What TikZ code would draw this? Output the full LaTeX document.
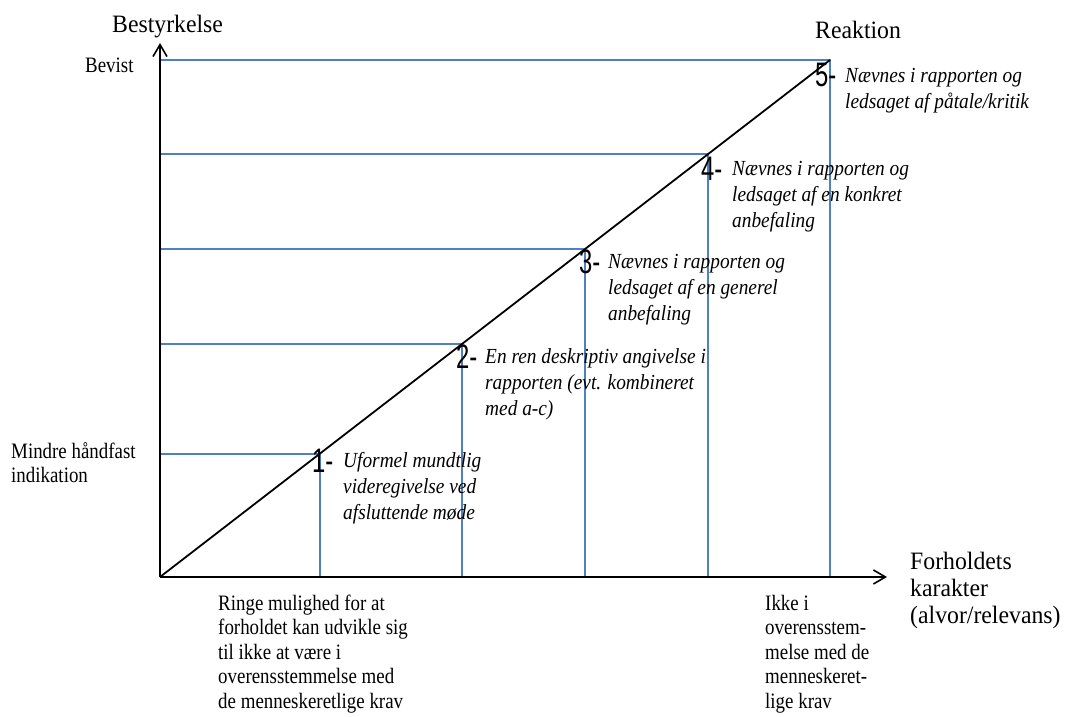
\documentclass[tikz,border=0pt]{standalone}
\usepackage{fontspec}
\setmainfont{Liberation Serif}[FakeStretch=0.86]
\newfontfamily\descfont{Liberation Serif}[FakeStretch=0.9]
\newfontfamily\headfont{Liberation Serif}[FakeStretch=0.95]
\newfontfamily\numfont{Liberation Sans}[FakeStretch=0.7]
\usetikzlibrary{arrows.meta}
\definecolor{guideblue}{RGB}{79,129,189}

\begin{document}
\begin{tikzpicture}[x=1pt,y=-1pt,
    axis/.style={line width=1.6pt,-{Straight Barb[length=12pt,width=14pt]}},
    guide/.style={line width=1.1pt,draw=guideblue},
    trend/.style={line width=1.8pt},
    num/.style={inner sep=0pt,anchor=base west,font=\numfont\fontsize{34}{34}\selectfont},
    desc/.style={inner sep=0pt,anchor=base west,align=left,font=\descfont\itshape\fontsize{21.5}{26}\selectfont},
    note/.style={inner sep=0pt,anchor=base west,align=left,font=\fontsize{22}{24.5}\selectfont},
    head/.style={inner sep=0pt,anchor=base west,align=left,font=\headfont\fontsize{25}{27}\selectfont}]

    \useasboundingbox (0,0) rectangle (1065,717);

    % axes
    \coordinate (O) at (160,577);
    \coordinate (ytop) at (160,43);
    \coordinate (xend) at (887,577);

    % steps on the diagonal, and their feet on the axes
    \coordinate (P1) at (320,454);
    \coordinate (P2) at (462,344);
    \coordinate (P3) at (585,249);
    \coordinate (P4) at (708,154);
    \coordinate (P5) at (830,60);
    \coordinate (H1) at (O |- P1);
    \coordinate (H2) at (O |- P2);
    \coordinate (H3) at (O |- P3);
    \coordinate (H4) at (O |- P4);
    \coordinate (H5) at (O |- P5);
    \coordinate (F1) at (O -| P1);
    \coordinate (F2) at (O -| P2);
    \coordinate (F3) at (O -| P3);
    \coordinate (F4) at (O -| P4);
    \coordinate (F5) at (O -| P5);

    \draw[guide] (H1) -- (P1) -- (F1);
    \draw[guide] (H2) -- (P2) -- (F2);
    \draw[guide] (H3) -- (P3) -- (F3);
    \draw[guide] (H4) -- (P4) -- (F4);
    \draw[guide] (H5) -- (P5) -- (F5);

    \draw[trend] (O) -- (P5);
    \draw[axis] (O) -- (ytop);
    \draw[axis] (O) -- (xend);

    % axis titles (base = last line)
    \node[head] (ylabel) at (112,33) {Bestyrkelse};
    \node[head] (rlabel) at (815,39) {Reaktion};
    \node[head] (xlabel) at (910,623) {Forholdets\\karakter\\(alvor/relevans)};

    % scale ends
    \node[note] (bevist) at (85,73) {Bevist};
    \node[note] (mindre) at (11,482.5) {Mindre håndfast\\indikation};
    \node[note] (ringe) at (218,708) {Ringe mulighed for at\\forholdet kan udvikle sig\\til ikke at være i\\overensstemmelse med\\de menneskeretlige krav};
    \node[note] (ikke) at (765,708) {Ikke i\\overensstem-\\melse med de\\menneskeret-\\lige krav};

    % reactions
    \node[num] (n1) at (312,472) {1-};
    \node[desc] (d1) at (343,519) {Uformel mundtlig\\videregivelse ved\\afsluttende møde};
    \node[num] (n2) at (456,368) {2-};
    \node[desc] (d2) at (485,415) {En ren deskriptiv angivelse i\\rapporten (evt. kombineret\\med a-c)};
    \node[num] (n3) at (579,273) {3-};
    \node[desc] (d3) at (608,320) {Nævnes i rapporten og\\ledsaget af en generel\\anbefaling};
    \node[num] (n4) at (701,180) {4-};
    \node[desc] (d4) at (732,227) {Nævnes i rapporten og\\ledsaget af en konkret\\anbefaling};
    \node[num] (n5) at (815,86) {5-};
    \node[desc] (d5) at (845,108) {Nævnes i rapporten og\\ledsaget af påtale/kritik};
\end{tikzpicture}
\end{document}
